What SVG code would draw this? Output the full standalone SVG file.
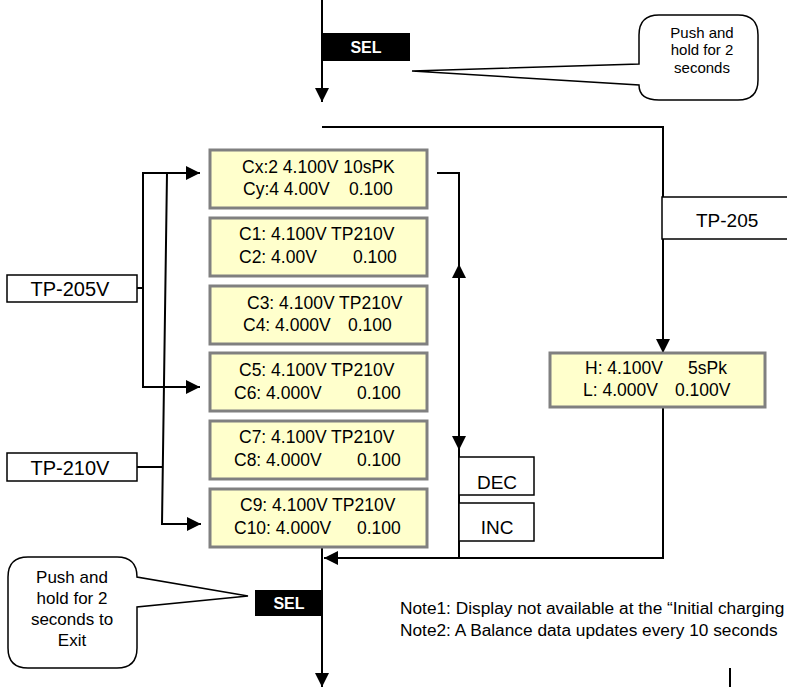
<svg xmlns="http://www.w3.org/2000/svg" width="787" height="687" viewBox="0 0 787 687">
<style>
.lcd{fill:#FFFFCC;stroke:#808080;stroke-width:3}
.t{font-family:"Liberation Sans",Arial,sans-serif;fill:#000}
.lt{font-size:17.5px}
.bx{fill:#fff;stroke:#000;stroke-width:1.5}
.big{font-size:19px}
.big2{font-size:20px}
.c{text-anchor:middle}
.sel{fill:#000}
.selt{font-family:"Liberation Sans",Arial,sans-serif;font-weight:bold;font-size:16px;fill:#fff;text-anchor:middle}
.co{fill:#fff;stroke:#000;stroke-width:1.5}
.ct{font-size:17px;text-anchor:middle}
.ct2{font-size:15px;text-anchor:middle}
.ln{fill:none;stroke:#000;stroke-width:2}
.nt{font-size:17.3px}
</style>
<defs>
<marker id="ah" markerWidth="14" markerHeight="14" refX="14" refY="7" orient="auto-start-reverse" markerUnits="userSpaceOnUse"><path d="M0,0 L14,7 L0,14 z" fill="#000"/></marker>
</defs>
<g id="connectors">
<path class="ln" d="M322,0 V102" marker-end="url(#ah)"/>
<path class="ln" d="M322,127 H663 V353" marker-end="url(#ah)"/>
<path class="ln" d="M663,407 V558 H324" marker-end="url(#ah)"/>
<path class="ln" d="M437,173 H459 V450" marker-end="url(#ah)"/>
<path class="ln" d="M459,558 V264" marker-end="url(#ah)"/>
<path class="ln" d="M322,548 V687" marker-end="url(#ah)"/>
<path class="ln" d="M200,173 H143 V387 H200" marker-start="url(#ah)" marker-end="url(#ah)"/>
<path class="ln" d="M137,288 H143"/>
<path class="ln" d="M167,173 L162,524 H201" marker-end="url(#ah)"/>
<path class="ln" d="M137,467 H163"/>
<path class="ln" d="M730,668 V687"/>
</g>
<g id="sel-top">
<rect class="sel" x="323" y="33" width="87" height="28"/>
<text class="selt" x="366" y="53">SEL</text>
</g>
<g id="callout-top">
<path class="co" d="M659,15 H738 Q758,15 758,35 V80 Q758,100 738,100 H659 Q639,100 639,85 L412,71 L639,64 V35 Q639,15 659,15 Z"/>
<text class="t ct2" x="702" y="37.5">Push and</text>
<text class="t ct2" x="702" y="55">hold for 2</text>
<text class="t ct2" x="702" y="72.5">seconds</text>
</g>
<g id="lcd1">
<rect class="lcd" x="210" y="150" width="217" height="58"/>
<text class="t lt" x="242" y="173">Cx:2 4.100V 10sPK</text>
<text class="t lt" x="243" y="195">Cy:4 4.00V</text>
<text class="t lt" x="349" y="195">0.100</text>
</g>
<g id="lcd2">
<rect class="lcd" x="210" y="218" width="217" height="58"/>
<text class="t lt" x="239" y="240">C1: 4.100V TP210V</text>
<text class="t lt" x="239" y="263">C2: 4.00V</text>
<text class="t lt" x="353" y="263">0.100</text>
</g>
<g id="lcd3">
<rect class="lcd" x="210" y="286" width="217" height="58"/>
<text class="t lt" x="247" y="309">C3: 4.100V TP210V</text>
<text class="t lt" x="243" y="331">C4: 4.000V</text>
<text class="t lt" x="348" y="331">0.100</text>
</g>
<g id="lcd4">
<rect class="lcd" x="210" y="353" width="217" height="58"/>
<text class="t lt" x="239" y="376">C5: 4.100V TP210V</text>
<text class="t lt" x="234" y="399">C6: 4.000V</text>
<text class="t lt" x="357" y="399">0.100</text>
</g>
<g id="lcd5">
<rect class="lcd" x="210" y="421" width="217" height="58"/>
<text class="t lt" x="239" y="443">C7: 4.100V TP210V</text>
<text class="t lt" x="234" y="466">C8: 4.000V</text>
<text class="t lt" x="357" y="466">0.100</text>
</g>
<g id="lcd6">
<rect class="lcd" x="210" y="489" width="217" height="58"/>
<text class="t lt" x="240" y="511">C9: 4.100V TP210V</text>
<text class="t lt" x="234" y="534">C10: 4.000V</text>
<text class="t lt" x="357" y="534">0.100</text>
</g>
<g id="tp205v">
<rect class="bx" x="7" y="275" width="130" height="27"/>
<text class="t big2 c" x="70" y="296">TP-205V</text>
</g>
<g id="tp210v">
<rect class="bx" x="7" y="453" width="130" height="28"/>
<text class="t big2 c" x="70" y="475">TP-210V</text>
</g>
<g id="tp205">
<rect class="bx" x="662" y="197" width="140" height="42"/>
<text class="t big" x="696" y="227">TP-205</text>
</g>
<g id="hl">
<rect class="lcd" x="550" y="353" width="215" height="54"/>
<text class="t lt" x="585" y="374">H: 4.100V</text>
<text class="t lt" x="688" y="374">5sPk</text>
<text class="t lt" x="583" y="396">L: 4.000V</text>
<text class="t lt" x="675" y="396">0.100V</text>
</g>
<g id="dec">
<rect class="bx" x="459" y="457" width="75" height="38"/>
<text class="t big c" x="497" y="489">DEC</text>
</g>
<g id="inc">
<rect class="bx" x="459" y="503" width="75" height="38"/>
<text class="t big c" x="497" y="534">INC</text>
</g>
<g id="sel-bottom">
<rect class="sel" x="255" y="590" width="67" height="26"/>
<text class="selt" x="289" y="609">SEL</text>
</g>
<g id="callout-bottom">
<path class="co" d="M28,557 H117 Q137,557 137,577 L248,596 L137,607 V648 Q137,668 117,668 H28 Q8,668 8,648 V577 Q8,557 28,557 Z"/>
<text class="t ct" x="72" y="583">Push and</text>
<text class="t ct" x="72" y="604">hold for 2</text>
<text class="t ct" x="72" y="625">seconds to</text>
<text class="t ct" x="72" y="646">Exit</text>
</g>
<g id="notes">
<text class="t nt" x="400" y="614">Note1: Display not available at the “Initial charging</text>
<text class="t nt" x="400" y="636">Note2: A Balance data updates every 10 seconds</text>
</g>
</svg>
